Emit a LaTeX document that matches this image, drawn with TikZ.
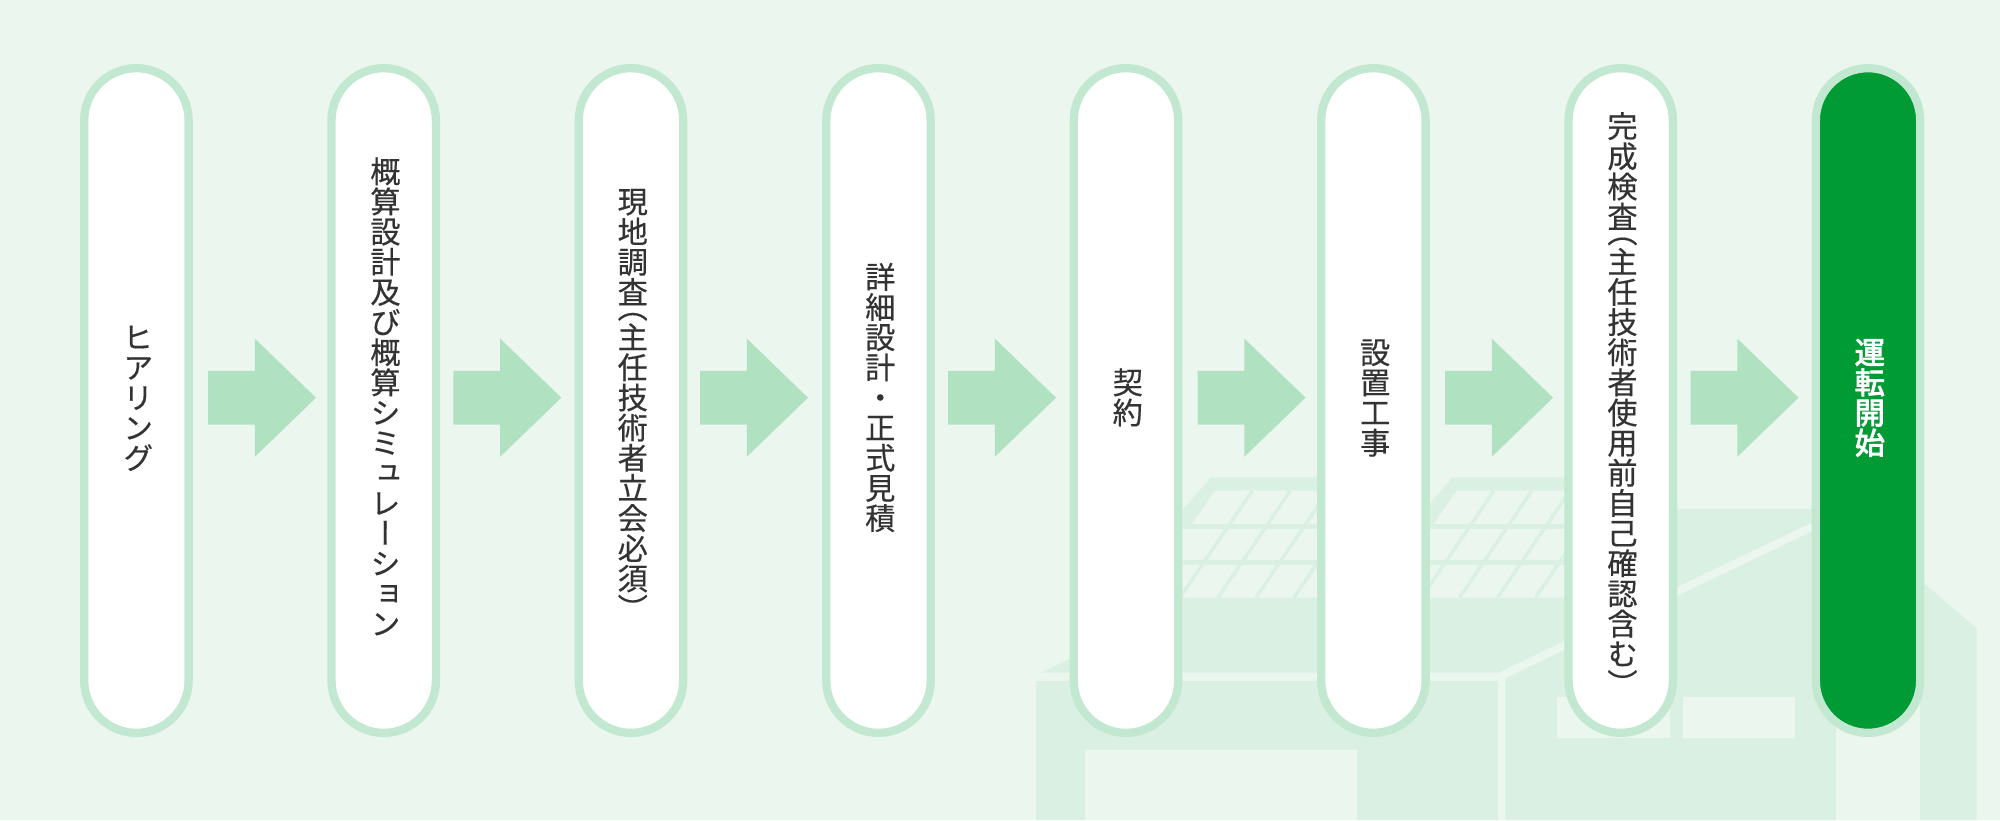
\documentclass[tikz,border=0pt]{standalone}
\usepackage{fontspec}
\usetikzlibrary{shapes.arrows}
\newfontfamily\jpv{Noto Sans CJK JP}[RawFeature=+vert,FakeBold=0.4]
\newfontfamily\jpm{Noto Sans CJK JP}[RawFeature=+vert,FakeBold=3]
\definecolor{bgc}{HTML}{EAF6EE}
\definecolor{housec}{HTML}{DAF0E2}
\definecolor{pillc}{HTML}{C3E8D1}
\definecolor{arrowc}{HTML}{B0E2C2}
\definecolor{greenc}{HTML}{009B35}
\definecolor{textc}{HTML}{333333}
\newcommand{\vch}[1]{\hbox to 40pt{\hss\vrule height 26.5pt depth 3.65pt width 0pt #1\hss}}
\newcommand{\vop}[1]{\hbox to 40pt{\hss\vrule height 11.42pt depth 3.65pt width 0pt \smash{#1}\hss}}
\newcommand{\vcl}[1]{\hbox to 40pt{\hss\vrule height 11.42pt depth 3.65pt width 0pt \smash{\lower15.08pt\hbox{#1}}\hss}}
\def\vsel#1{\ifx#1（\vop{#1}\else\ifx#1）\vcl{#1}\else\vch{#1}\fi\fi}
\def\vloop#1{\ifx#1\relax\else\vsel{#1}\expandafter\vloop\fi}
\newcommand{\vtext}[1]{\kern3.5pt\vbox{\offinterlineskip\vloop#1\relax\kern6pt}}
\tikzset{
  x=1pt,y=-1pt,
  pillbox/.style={rectangle,draw=pillc,line width=8.3pt,fill=white,rounded corners=52.2pt,
    minimum width=104.4pt,minimum height=664.7pt,inner sep=0pt,outer sep=0pt,text=textc,
    font=\fontsize{30.2pt}{30pt}\jpv},
  lastbox/.style={pillbox,fill=greenc,text=white,font=\fontsize{30.2pt}{30pt}\jpm},
  flowarrow/.style={single arrow,fill=arrowc,draw=none,inner xsep=0pt,inner ysep=26.65pt,outer sep=0pt,anchor=west,
    minimum width=117.7pt,minimum height=108pt,single arrow head extend=32.2pt,single arrow tip angle=88},
  house/.style={fill=housec,draw=none},
  cutout/.style={fill=bgc,draw=none},
  mullion/.style={draw=housec,line width=3.4pt},
  rowline/.style={draw=housec,line width=5pt}
}
\newcommand{\solar}[1]{%
  \begin{scope}[shift={(#1,0)}]
    \fill[house] (0,477.7)--(190,477.7)--(190,490.7)--(4.3,490.7)--(-18.4,524)--(-40,524)--cycle;
    \begin{scope}
      \clip (4.3,490.7)--(190,490.7)--(190,597.7)--(-80,597.7)--(-80,524)--(-18.4,524)--cycle;
      \fill[cutout] (-90,480) rectangle (200,600);
      \draw[rowline] (-90,526.7)--(200,526.7);
      \draw[rowline] (-90,562.2)--(200,562.2);
      \foreach \k in {0,1,2,3,4}{
        \draw[mullion] ({41.6+38*\k},490.7)--({41.6+38*\k-72.4},597.7);
      }
    \end{scope}
  \end{scope}}
\begin{document}
\begin{tikzpicture}
\useasboundingbox (0,0) rectangle (2000,820);
\fill[bgc] (0,0) rectangle (2000,820);
% house
\fill[house] (1041.5,672.7)--(1100,644)--(1150,597.7)--(1620,597.7)--(1620,509)--(1840,509)--(1498.3,672.7)--cycle;
\fill[house] (1036.4,681) rectangle (1497.7,820);
\fill[cutout] (1085,750) rectangle (1356.5,820);
\fill[house] (1505.3,820)--(1505.3,678.4)--(1840,518)--(1868,518)--(1925,584.3)--(1976.7,628.3)--(1976.7,820)--cycle;
\fill[cutout] (1557,697) rectangle (1670,737.7);
\fill[cutout] (1683,697) rectangle (1795,737.7);
\fill[cutout] (1836,650) rectangle (1920,820);
\solar{1210.7}
\solar{1452.3}
% arrows
\node[flowarrow] (a1) at (208,397.7) {};
\node[flowarrow] (a2) at (453.3,397.7) {};
\node[flowarrow] (a3) at (700,397.7) {};
\node[flowarrow] (a4) at (948,397.7) {};
\node[flowarrow] (a5) at (1197.5,397.7) {};
\node[flowarrow] (a6) at (1445,397.7) {};
\node[flowarrow] (a7) at (1690.5,397.7) {};
% pills
\node[pillbox] (p1) at (136.4,400.5) {\vtext{ヒアリング}};
\node[pillbox] (p2) at (383.7,400.5) {\vtext{概算設計及び概算シミュレーション}};
\node[pillbox] (p3) at (631,400.5) {\vtext{現地調査（主任技術者立会必須）}};
\node[pillbox] (p4) at (878.5,400.5) {\vtext{詳細設計・正式見積}};
\node[pillbox] (p5) at (1126,400.5) {\vtext{契約}};
\node[pillbox] (p6) at (1373.4,400.5) {\vtext{設置工事}};
\node[pillbox] (p7) at (1620.7,400.5) {\vtext{完成検査（主任技術者使用前自己確認含む）}};
\node[lastbox] (p8) at (1868,400.5) {\vtext{運転開始}};
\end{tikzpicture}
\end{document}
